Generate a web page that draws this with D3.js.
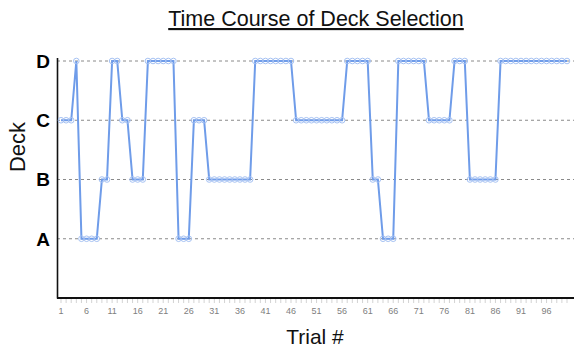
<!DOCTYPE html>
<html><head><meta charset="utf-8">
<script src="https://cdn.jsdelivr.net/npm/d3@7"></script>
<style>body{margin:0;background:#fff}svg{display:block}</style>
</head><body>
<svg id="c" width="582" height="356"></svg>
<script>
const deckLabels = ["A","B","C","D"];
const trials = d3.range(1, 101);
const choices = [
 "C","C","C","D","A","A","A","A","B","B",
 "D","D","C","C","B","B","B","D","D","D",
 "D","D","D","A","A","A","C","C","C","B",
 "B","B","B","B","B","B","B","B","D","D",
 "D","D","D","D","D","D","C","C","C","C",
 "C","C","C","C","C","C","D","D","D","D",
 "D","B","B","A","A","A","D","D","D","D",
 "D","D","C","C","C","C","C","D","D","D",
 "B","B","B","B","B","B","D","D","D","D",
 "D","D","D","D","D","D","D","D","D","D"
];
const xTickLabels = [1,6,11,16,21,26,31,36,41,46,51,56,61,66,71,76,81,86,91,96];
const title = "Time Course of Deck Selection";

const svg = d3.select("#c");
const x = d3.scaleLinear().domain([1,100]).range([61,567]);
const y = d3.scaleLinear().domain([0,4]).range([298,61]);
const val = c => deckLabels.indexOf(c) + 1;

// gridlines
svg.append("g").selectAll("line").data(deckLabels).join("line")
  .attr("x1",57).attr("x2",574)
  .attr("y1",d=>y(val(d))).attr("y2",d=>y(val(d)))
  .attr("stroke","#8a8a8a").attr("stroke-width",1).attr("stroke-dasharray","3,3");

// minor ticks
svg.append("g").selectAll("line").data(trials).join("line")
  .attr("x1",d=>x(d)).attr("x2",d=>x(d)).attr("y1",299).attr("y2",303)
  .attr("stroke","#c8c8c8").attr("stroke-width",0.8);

// x tick labels
svg.append("g").selectAll("text").data(xTickLabels).join("text")
  .attr("x",d=>x(d)).attr("y",314).attr("text-anchor","middle")
  .attr("font-family","Liberation Sans, Arial, sans-serif").attr("font-size",9)
  .attr("fill","#808080").text(d=>d);

// axes lines
svg.append("line").attr("x1",57.5).attr("x2",57.5).attr("y1",58).attr("y2",298.5)
  .attr("stroke","#111").attr("stroke-width",1.6);
svg.append("line").attr("x1",57).attr("x2",574).attr("y1",298).attr("y2",298)
  .attr("stroke","#111").attr("stroke-width",1.8);

// y labels
svg.append("g").selectAll("text").data(deckLabels).join("text")
  .attr("x",43).attr("y",d=>y(val(d))).attr("dy","0.36em").attr("text-anchor","middle")
  .attr("font-family","Liberation Sans, Arial, sans-serif").attr("font-weight","bold")
  .attr("font-size",19).attr("fill","#000").text(d=>d);

// line
const data = trials.map((t,i)=>({t, v: val(choices[i])}));
svg.append("path").datum(data)
  .attr("d", d3.line().x(d=>x(d.t)).y(d=>y(d.v)))
  .attr("fill","none").attr("stroke","#6f9ce9").attr("stroke-width",2);
svg.append("g").selectAll("circle").data(data).join("circle")
  .attr("cx",d=>x(d.t)).attr("cy",d=>y(d.v)).attr("r",2.8)
  .attr("fill","none").attr("stroke","#a6c2f3").attr("stroke-width",1);

// titles
svg.append("text").attr("x",316).attr("y",26).attr("text-anchor","middle")
  .attr("font-family","Liberation Sans, Arial, sans-serif").attr("font-size",21.5)
  .attr("text-decoration","underline").attr("fill","#111").text(title);
svg.append("text").attr("x",315).attr("y",344).attr("text-anchor","middle")
  .attr("font-family","Liberation Sans, Arial, sans-serif").attr("font-size",21)
  .attr("fill","#111").text("Trial #");
svg.append("text").attr("transform","translate(25,147) rotate(-90)").attr("text-anchor","middle")
  .attr("font-family","Liberation Sans, Arial, sans-serif").attr("font-size",22)
  .attr("fill","#111").text("Deck");
</script>
</body></html>
